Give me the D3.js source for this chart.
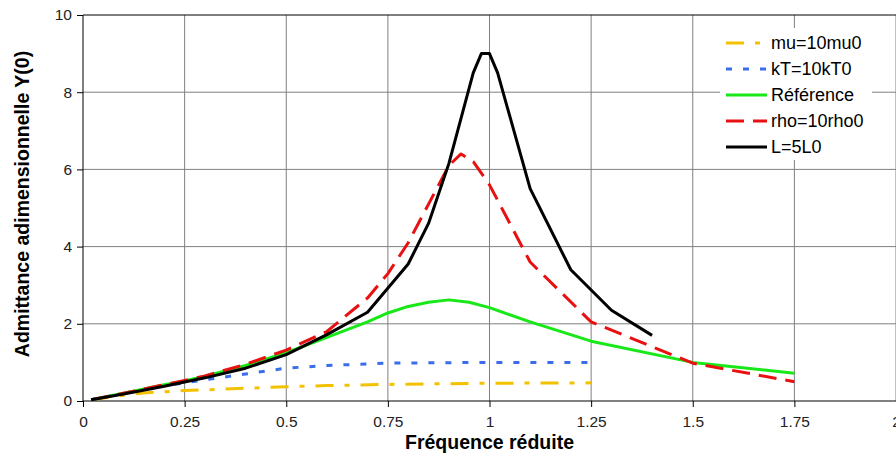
<!DOCTYPE html>
<html><head><meta charset="utf-8">
<script src="https://cdn.jsdelivr.net/npm/d3@7"></script>
<style>body{margin:0;background:#fff}svg{display:block}text{font-family:Arial,"Liberation Sans",sans-serif}</style>
</head><body>
<svg id="c" width="896" height="458"></svg>
<script>
// ---- data ----
const xTicks = [0, 0.25, 0.5, 0.75, 1, 1.25, 1.5, 1.75, 2];
const xTickLabels = ["0", "0.25", "0.5", "0.75", "1", "1.25", "1.5", "1.75", "2"];
const yTicks = [0, 2, 4, 6, 8, 10];
const xTitle = "Fréquence réduite";
const yTitle = "Admittance adimensionnelle Y(0)";

const muX = [0.02, 0.1, 0.15, 0.25, 0.5, 0.6, 0.75, 1.0, 1.25];
const muY = [0.03, 0.15, 0.21, 0.27, 0.37, 0.4, 0.43, 0.46, 0.47];

const kTX = [0.02, 0.1, 0.2, 0.25, 0.3, 0.4, 0.5, 0.6, 0.75, 1.0, 1.25];
const kTY = [0.03, 0.2, 0.4, 0.47, 0.55, 0.7, 0.85, 0.92, 0.98, 1.0, 1.0];

const refX = [0.02, 0.1, 0.2, 0.25, 0.3, 0.4, 0.5, 0.6, 0.7, 0.75, 0.8, 0.85, 0.9, 0.95, 1.0, 1.1, 1.25, 1.5, 1.75];
const refY = [0.03, 0.2, 0.42, 0.52, 0.64, 0.92, 1.25, 1.65, 2.05, 2.28, 2.45, 2.56, 2.62, 2.56, 2.42, 2.05, 1.55, 1.0, 0.72];

const rhoX = [0.02, 0.1, 0.2, 0.25, 0.3, 0.4, 0.5, 0.6, 0.7, 0.75, 0.8, 0.85, 0.9, 0.93, 0.96, 1.0, 1.1, 1.25, 1.5, 1.75];
const rhoY = [0.03, 0.2, 0.42, 0.53, 0.65, 0.95, 1.32, 1.8, 2.67, 3.3, 4.1, 5.1, 6.1, 6.4, 6.2, 5.6, 3.6, 2.05, 0.98, 0.5];

const LX = [0.02, 0.1, 0.2, 0.25, 0.3, 0.4, 0.5, 0.6, 0.7, 0.8, 0.85, 0.9, 0.96, 0.98, 1.0, 1.02, 1.1, 1.2, 1.3, 1.4];
const LY = [0.03, 0.18, 0.38, 0.49, 0.6, 0.85, 1.2, 1.72, 2.3, 3.55, 4.6, 6.15, 8.5, 9.0, 9.0, 8.5, 5.5, 3.4, 2.35, 1.7];

const seriesNames = ["mu=10mu0", "kT=10kT0", "Référence", "rho=10rho0", "L=5L0"];
const seriesX = [muX, kTX, refX, rhoX, LX];
const seriesY = [muY, kTY, refY, rhoY, LY];
const seriesColors = ["#F2C200", "#3A6EE8", "#18E818", "#E81010", "#000000"];
const seriesDash = ["18,11,5,11", "6,11", null, "18,9", null];

// ---- chart ----
const svg = d3.select("#c");
const pL = 83, pR = 896, pT = 15, pB = 401;
const x = d3.scaleLinear().domain([0, 2]).range([pL, pR]);
const y = d3.scaleLinear().domain([0, 10]).range([pB, pT]);

// gridlines
svg.append("g").selectAll("line").data(xTicks.slice(1)).join("line")
  .attr("x1", d => x(d)).attr("x2", d => x(d)).attr("y1", pT).attr("y2", pB)
  .attr("stroke", "#808080").attr("stroke-width", 1);
svg.append("g").selectAll("line").data(yTicks.slice(1, -1)).join("line")
  .attr("x1", pL).attr("x2", pR).attr("y1", d => y(d)).attr("y2", d => y(d))
  .attr("stroke", "#808080").attr("stroke-width", 1);
// top border
svg.append("line").attr("x1", pL).attr("x2", pR).attr("y1", y(10)).attr("y2", y(10))
  .attr("stroke", "#000").attr("stroke-width", 1);

// axes
const xAxis = d3.axisBottom(x).tickValues(xTicks).tickFormat((d, i) => xTickLabels[i]).tickSize(6).tickPadding(9);
const gx = svg.append("g").attr("transform", `translate(0,${pB})`).call(xAxis);
gx.select(".domain").attr("stroke", "#000").attr("d", `M${pL},0H${pR}`);
gx.selectAll(".tick line").attr("stroke", "#000");
gx.selectAll("text").attr("font-size", 15.5).attr("fill", "#222").attr("font-family", "Arial, 'Liberation Sans', sans-serif");

const yAxis = d3.axisLeft(y).tickValues(yTicks).tickSize(6).tickPadding(5);
const gy = svg.append("g").attr("transform", `translate(${pL},0)`).call(yAxis);
gy.select(".domain").attr("stroke", "#000").attr("d", `M0,${pT}V${pB}`);
gy.selectAll(".tick line").attr("stroke", "#000");
gy.selectAll("text").attr("font-size", 15.5).attr("fill", "#222").attr("font-family", "Arial, 'Liberation Sans', sans-serif");

// lines
const line = d3.line().x(d => x(d[0])).y(d => y(d[1]));
seriesNames.forEach((name, i) => {
  const pts = seriesX[i].map((v, j) => [v, seriesY[i][j]]);
  svg.append("path").datum(pts).attr("d", line)
    .attr("fill", "none").attr("stroke", seriesColors[i]).attr("stroke-width", 3)
    .attr("stroke-dasharray", seriesDash[i]).attr("stroke-linejoin", "round");
});

// legend
const lg = svg.append("g");
lg.append("rect").attr("x", 720).attr("y", 28).attr("width", 152).attr("height", 132).attr("fill", "#fff");
const rowY = [43, 69, 95, 121, 147];
seriesNames.forEach((name, i) => {
  lg.append("line").attr("x1", 726).attr("x2", 767).attr("y1", rowY[i]).attr("y2", rowY[i])
    .attr("stroke", seriesColors[i]).attr("stroke-width", 3).attr("stroke-dasharray", seriesDash[i]);
  lg.append("text").attr("x", 771).attr("y", rowY[i]).attr("dy", "0.35em")
    .attr("font-size", 18).attr("fill", "#000").text(name);
});

// titles
svg.append("text").attr("x", (pL + pR) / 2).attr("y", 449).attr("text-anchor", "middle")
  .attr("font-size", 19.5).attr("font-weight", "bold").text(xTitle);
svg.append("text").attr("transform", `translate(29,204) rotate(-90)`).attr("text-anchor", "middle")
  .attr("font-size", 19.5).attr("font-weight", "bold").text(yTitle);
</script>
</body></html>
